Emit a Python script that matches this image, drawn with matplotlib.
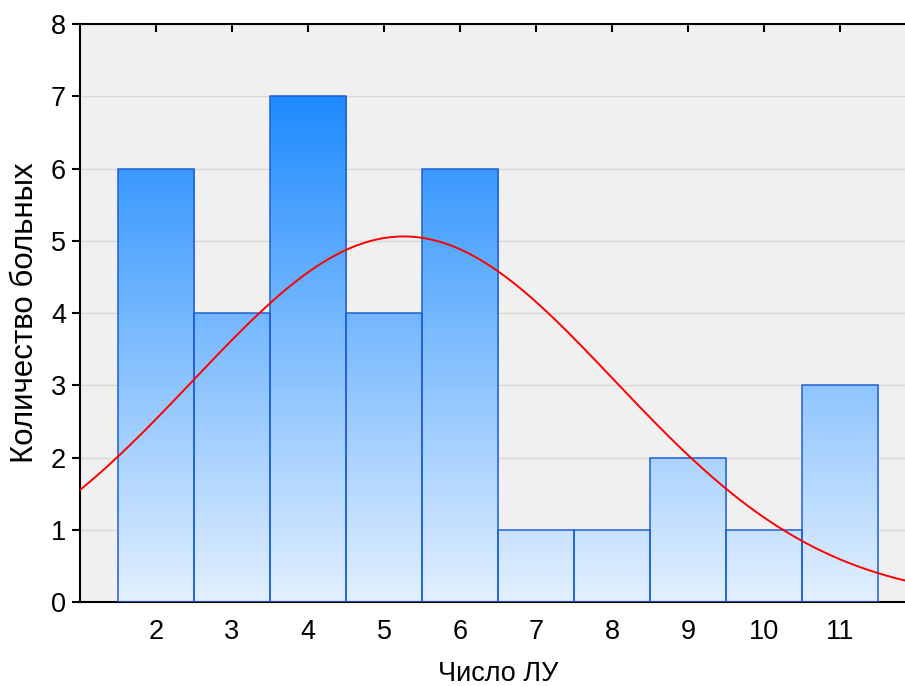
import matplotlib
matplotlib.use('Agg')
import matplotlib.pyplot as plt
from matplotlib.colors import LinearSegmentedColormap
from matplotlib.patches import Rectangle
import numpy as np

plt.rcParams['font.family'] = ['Liberation Sans', 'DejaVu Sans']

# histogram data
lu_count = [2, 3, 4, 5, 6, 7, 8, 9, 10, 11]
patients = [6, 4, 7, 4, 6, 1, 1, 2, 1, 3]

# fitted normal curve as drawn in the original
curve_mean = 5.26
curve_sd = 2.77
curve_peak = 5.06

xlabel = 'Число ЛУ'
ylabel = 'Количество больных'

fig = plt.figure(figsize=(9.05, 6.86), dpi=100)
ax = fig.add_axes([0.0884, 0.1224, 0.9238, 0.8426])
ax.set_facecolor('#f0f0f0')
ax.set_xlim(1, 12)
ax.set_ylim(0, 8)

# vertical gradient, same for every bar (dark at top, light at bottom)
cmap = LinearSegmentedColormap.from_list('bars', ['#e3f0fe', '#1e8bff'])
ymax = max(patients)
grad = np.linspace(0, 1, 256).reshape(-1, 1)

for x, h in zip(lu_count, patients):
    rect = Rectangle((x - 0.5, 0), 1, h, facecolor='none',
                     edgecolor='#1f5fd6', linewidth=1.1, zorder=3)
    ax.add_patch(rect)
    im = ax.imshow(grad, cmap=cmap, origin='lower', aspect='auto',
                   extent=[x - 0.5, x + 0.5, 0, ymax], zorder=2,
                   interpolation='bilinear')
    im.set_clip_path(rect)

# normal curve
xs = np.linspace(1, 12, 400)
ys = curve_peak * np.exp(-(xs - curve_mean) ** 2 / (2 * curve_sd ** 2))
ax.plot(xs, ys, color='#ff0000', linewidth=1.4, zorder=4)

ax.set_xticks(lu_count)
ax.set_yticks(range(0, 9))
ax.yaxis.grid(True, color='#d8d8d8', linewidth=1)
ax.set_axisbelow(True)

for side in ['left', 'bottom', 'top']:
    ax.spines[side].set_linewidth(1.5)
ax.spines['right'].set_visible(False)

ax.tick_params(axis='x', direction='in', top=True, length=6, width=1.5,
               labelsize=19.5, pad=12)
ax.tick_params(axis='y', direction='out', length=6, width=1.5,
               labelsize=19.5, pad=4)

ax.set_xlabel(xlabel, fontsize=19.5, labelpad=12)
ax.set_ylabel(ylabel, fontsize=22.5, labelpad=8)

fig.savefig('out.png', dpi=100)
